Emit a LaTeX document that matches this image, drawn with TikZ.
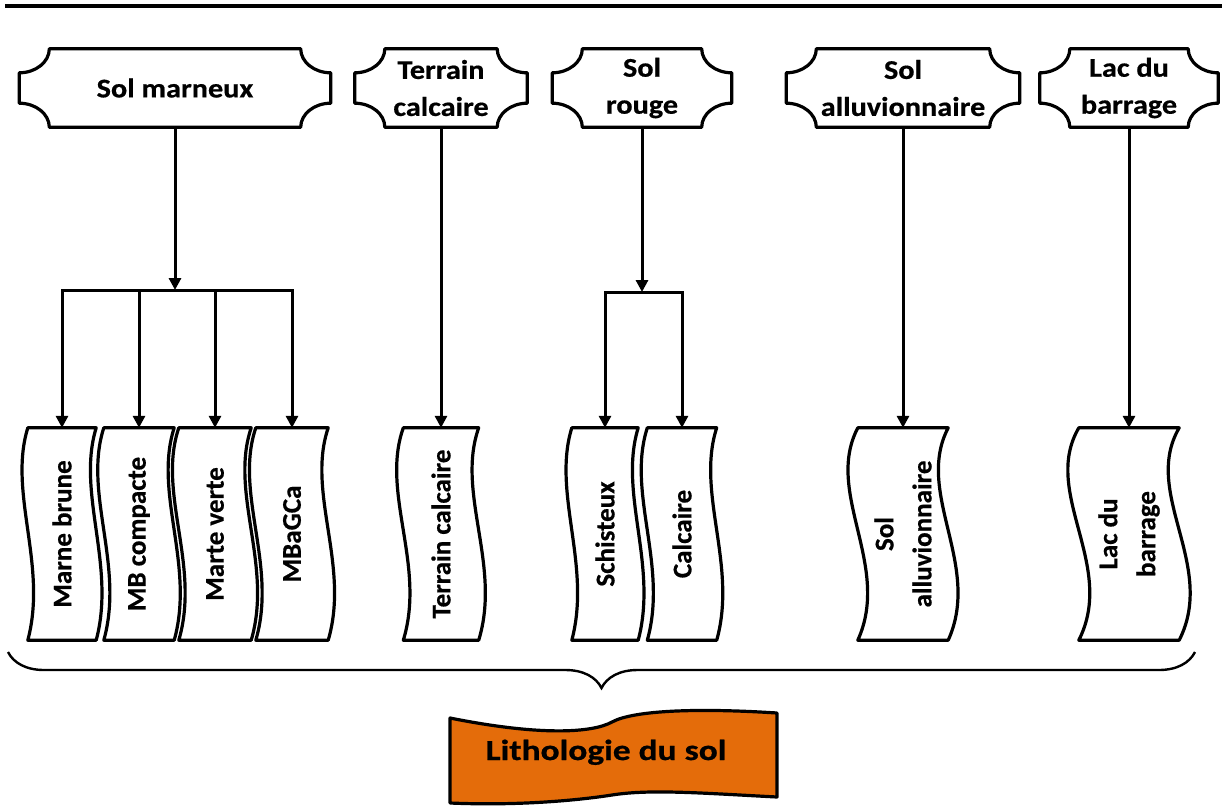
\documentclass[tikz,border=0pt]{standalone}
\usepackage{fontspec}
\setmainfont{Carlito}[BoldFeatures={FakeBold=0.6}]
\newfontfamily\widefamily[FakeStretch=1.12, BoldFeatures={FakeBold=0.6}]{Carlito}
\newfontfamily\bannerfamily[FakeStretch=1.22, BoldFeatures={FakeBold=0.8}]{Carlito}
\newcommand{\headfont}{\widefamily\bfseries\fontsize{27}{37}\selectfont}
\newcommand{\pilefont}{\bfseries\fontsize{27}{38}\selectfont}
\newcommand{\bannerfont}{\bannerfamily\bfseries\fontsize{29}{32}\selectfont}
\usetikzlibrary{arrows.meta, calc, decorations.pathreplacing}
\definecolor{bannerorange}{RGB}{228,108,10}

\begin{document}
\begin{tikzpicture}[
    x=1pt, y=-1pt, % pixel grid, y downwards
    >={Triangle[length=12pt,width=12pt]},
    plaque/.style={minimum height=78pt, inner sep=0pt, align=center, font=\headfont},
    pile/.style={rotate=90, minimum width=212pt, inner sep=0pt, align=center, font=\pilefont},
    outline/.style={line width=3.2pt, line join=round},
    feed/.style={->, line width=3pt},
    bar/.style={line width=3pt, line cap=rect}
]
    \useasboundingbox (0,0) rectangle (1224,807);

    % corner size of the top plaques
    \def\rx{30} \def\ry{24}
    \def\kx{16.5} \def\ky{13.2}

    % --- top rule ---
    \draw[line width=3.4pt] (5,6) -- (1222,6);

    % --- soil families (top) ---
    \node[plaque, minimum width=311pt] (smarn)  at (175,88)  {Sol marneux};
    \node[plaque, minimum width=172pt] (tcalc)  at (441,88)  {Terrain\\calcaire};
    \node[plaque, minimum width=179pt] (srouge) at (642,88)  {Sol\\rouge};
    \node[plaque, minimum width=233pt] (salluv) at (903,88)  {Sol\\alluvionnaire};
    \node[plaque, minimum width=178pt] (lac)    at (1129,88) {Lac du\\barrage};

    \foreach \n in {smarn,tcalc,srouge,salluv,lac} {
        \draw[outline]
            ($(\n.north west)+(\rx,0)$) -- ($(\n.north east)+(-\rx,0)$)
            .. controls +(0,\ky) and +(-\kx,0) .. ($(\n.north east)+(0,\ry)$)
            -- ($(\n.south east)+(0,-\ry)$)
            .. controls +(-\kx,0) and +(0,-\ky) .. ($(\n.south east)+(-\rx,0)$)
            -- ($(\n.south west)+(\rx,0)$)
            .. controls +(0,-\ky) and +(\kx,0) .. ($(\n.south west)+(0,-\ry)$)
            -- ($(\n.north west)+(0,\ry)$)
            .. controls +(\kx,0) and +(0,\ky) .. ($(\n.north west)+(\rx,0)$) -- cycle;
    }

    % --- lithologies (bottom) ---
    \node[pile, minimum height=68pt] (mb1)  at (62,534)   {Marne brune};
    \node[pile, minimum height=70pt] (mb2)  at (139,534)  {MB compacte};
    \node[pile, minimum height=72pt] (mb3)  at (215,534)  {Marte verte};
    \node[pile, minimum height=72pt] (mb4)  at (292,534)  {MBaGCa};
    \node[pile, minimum height=75pt] (tc)   at (441,534)  {Terrain calcaire};
    \node[pile, minimum height=66pt] (sch)  at (605,534)  {Schisteux};
    \node[pile, minimum height=69pt] (calc) at (682,534)  {Calcaire};
    \node[pile, minimum height=90pt] (sa)   at (903,534)  {Sol\\alluvionnaire};
    \node[pile, minimum height=100pt] (lb)  at (1129,534) {Lac du\\barrage};

    \foreach \n/\a in {mb1/20,mb2/21,mb3/22,mb4/22,tc/23,sch/20,calc/21,sa/34,lb/38} {
        \draw[outline]
            (\n.north |- \n.east) .. controls +(-\a,65) and +(\a,-75) .. (\n.north |- \n.west)
            -- (\n.south |- \n.west) .. controls +(\a,-75) and +(-\a,65) .. (\n.south |- \n.east)
            -- cycle;
    }

    % --- connectors ---
    \coordinate (forkA) at (175,290);
    \coordinate (forkB) at (642,292);

    \draw[feed] (smarn) -- (forkA);
    \draw[bar] (mb1 |- forkA) -- (mb4 |- forkA);
    \foreach \m in {mb1,mb2,mb3,mb4}
        \draw[feed] (\m |- forkA) -- (\m);

    \draw[feed] (tcalc) -- (tc);

    \draw[feed] (srouge) -- (forkB);
    \draw[bar] (sch |- forkB) -- (calc |- forkB);
    \foreach \m in {sch,calc}
        \draw[feed] (\m |- forkB) -- (\m);

    \draw[feed] (salluv) -- (sa);
    \draw[feed] (lac) -- (lb);

    % --- brace and banner ---
    \coordinate (braceL) at (8,652);
    \coordinate (braceR) at (1195,652);
    \draw[line width=2.4pt, decorate, decoration={brace, mirror, amplitude=36pt}] (braceL) -- (braceR);

    \draw[outline, fill=bannerorange]
        (450,718) .. controls (540,736) and (592,733) .. (612,722)
        .. controls (634,710) and (700,708) .. (777,713)
        -- (777,797)
        .. controls (700,793) and (650,789) .. (612,795)
        .. controls (580,800) and (520,806) .. (450,803) -- cycle;
    \node[font=\bannerfont, anchor=base] (litho) at (606,760) {Lithologie du sol};
\end{tikzpicture}
\end{document}
